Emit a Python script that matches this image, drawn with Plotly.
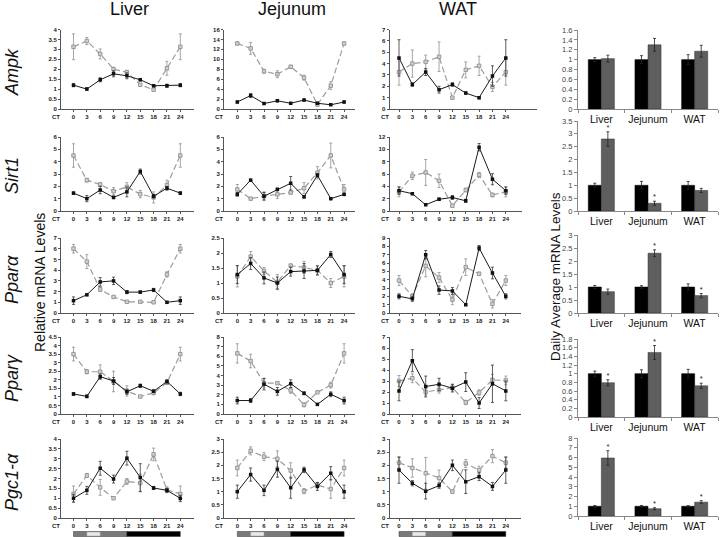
import plotly.graph_objects as go

# ---------------- data ----------------
CT = [0, 3, 6, 9, 12, 15, 18, 21, 24]
genes = ["Ampk", "Sirt1", "Pparα", "Pparγ", "Pgc1-α"]
tissues = ["Liver", "Jejunum", "WAT"]

# Ampk
ampk_liver_solid = [1.2, 1.0, 1.47, 1.77, 1.67, 1.47, 1.17, 1.17, 1.2]
ampk_liver_solid_err = [0.08, 0.07, 0.1, 0.15, 0.15, 0.05, 0.05, 0.08, 0.08]
ampk_liver_dashed = [3.13, 3.42, 2.77, 2.0, 1.85, 1.22, 0.97, 2.05, 3.13]
ampk_liver_dashed_err = [0.65, 0.18, 0.25, 0.1, 0.1, 0.06, 0.05, 0.35, 0.65]
ampk_jej_solid = [1.4, 2.7, 1.1, 1.65, 1.15, 1.8, 1.15, 0.85, 1.4]
ampk_jej_solid_err = [0.2, 0.4, 0.15, 0.2, 0.15, 0.2, 0.2, 0.15, 0.2]
ampk_jej_dashed = [13.2, 12.2, 7.6, 7.0, 8.5, 6.3, 0.9, 4.7, 13.2]
ampk_jej_dashed_err = [0.3, 1.2, 0.4, 0.7, 0.3, 0.5, 0.3, 0.8, 0.3]
ampk_wat_solid = [4.5, 2.15, 3.25, 1.7, 2.15, 1.4, 1.0, 2.9, 4.5]
ampk_wat_solid_err = [1.6, 0.15, 0.3, 0.3, 0.15, 0.1, 0.1, 0.9, 1.6]
ampk_wat_dashed = [3.25, 4.0, 4.15, 4.6, 1.0, 3.45, 3.8, 1.95, 3.25]
ampk_wat_dashed_err = [1.15, 1.2, 0.6, 1.3, 0.1, 0.7, 0.85, 0.4, 1.15]

# Sirt1
sirt1_liver_solid = [1.45, 1.0, 1.7, 1.1, 1.55, 3.2, 1.2, 1.85, 1.45]
sirt1_liver_solid_err = [0.1, 0.25, 0.3, 0.1, 0.4, 0.2, 0.15, 0.15, 0.1]
sirt1_liver_dashed = [4.5, 2.5, 2.15, 1.6, 1.95, 1.37, 1.1, 2.1, 4.5]
sirt1_liver_dashed_err = [0.95, 0.15, 0.15, 0.3, 0.35, 0.3, 0.45, 0.4, 0.95]
sirt1_jej_solid = [1.35, 2.5, 1.2, 1.75, 2.25, 1.15, 2.9, 1.0, 1.35]
sirt1_jej_solid_err = [0.15, 0.08, 0.3, 0.1, 0.55, 0.1, 0.15, 0.08, 0.1]
sirt1_jej_dashed = [1.75, 1.0, 1.2, 1.35, 1.5, 1.85, 3.1, 4.5, 1.75]
sirt1_jej_dashed_err = [0.4, 0.08, 0.35, 0.35, 0.1, 0.45, 0.5, 1.0, 0.4]
sirt1_wat_solid = [3.3, 2.8, 1.0, 1.9, 2.2, 1.65, 10.35, 5.15, 3.3]
sirt1_wat_solid_err = [0.6, 0.15, 0.1, 0.2, 0.3, 0.25, 0.6, 0.9, 0.6]
sirt1_wat_dashed = [3.1, 5.7, 6.25, 4.9, 0.85, 3.4, 5.85, 2.6, 3.1]
sirt1_wat_dashed_err = [0.8, 0.6, 2.1, 1.1, 0.1, 0.3, 0.4, 0.3, 0.8]

# Ppar-alpha
ppara_liver_solid = [1.15, 1.7, 2.9, 3.0, 1.95, 1.95, 2.15, 1.0, 1.15]
ppara_liver_solid_err = [0.35, 0.08, 0.4, 0.35, 0.15, 0.1, 0.15, 0.08, 0.35]
ppara_liver_dashed = [6.0, 4.8, 2.2, 1.5, 1.05, 1.05, 1.0, 3.6, 6.0]
ppara_liver_dashed_err = [0.4, 0.65, 0.2, 0.08, 0.08, 0.08, 0.08, 0.25, 0.4]
ppara_jej_solid = [1.28, 1.65, 1.17, 1.0, 1.38, 1.4, 1.42, 1.95, 1.28]
ppara_jej_solid_err = [0.3, 0.2, 0.2, 0.2, 0.15, 0.25, 0.15, 0.1, 0.3]
ppara_jej_dashed = [1.22, 1.88, 1.4, 1.03, 1.58, 1.52, 1.42, 1.0, 1.22]
ppara_jej_dashed_err = [0.35, 0.17, 0.12, 0.25, 0.05, 0.2, 0.15, 0.15, 0.35]
ppara_wat_solid = [2.0, 1.7, 7.0, 2.75, 2.65, 1.0, 7.8, 4.8, 2.0]
ppara_wat_solid_err = [0.3, 0.3, 0.5, 0.5, 0.4, 0.1, 0.3, 0.7, 0.3]
ppara_wat_dashed = [3.9, 2.0, 5.65, 4.25, 1.6, 5.5, 4.7, 1.1, 3.9]
ppara_wat_dashed_err = [0.6, 0.3, 1.3, 0.6, 0.6, 1.0, 0.2, 0.5, 0.6]

# Ppar-gamma
pparg_liver_solid = [1.17, 1.03, 2.18, 1.93, 1.3, 1.65, 1.33, 1.9, 1.17]
pparg_liver_solid_err = [0.08, 0.08, 0.15, 0.2, 0.15, 0.1, 0.08, 0.1, 0.1]
pparg_liver_dashed = [3.5, 2.47, 2.47, 1.9, 1.35, 1.02, 1.23, 1.83, 3.5]
pparg_liver_dashed_err = [0.4, 0.12, 0.4, 0.6, 0.3, 0.05, 0.1, 0.1, 0.4]
pparg_jej_solid = [1.4, 1.4, 3.1, 2.35, 3.15, 2.15, 1.0, 2.05, 1.4]
pparg_jej_solid_err = [0.35, 0.2, 0.6, 0.4, 0.4, 0.15, 0.1, 0.25, 0.35]
pparg_jej_dashed = [6.3, 5.5, 3.2, 3.2, 2.45, 0.95, 2.25, 3.0, 6.3]
pparg_jej_dashed_err = [1.0, 0.7, 0.5, 0.1, 0.3, 0.2, 0.1, 0.3, 1.0]
pparg_wat_solid = [2.1, 4.85, 2.5, 2.7, 2.35, 2.9, 1.0, 2.75, 2.1]
pparg_wat_solid_err = [0.9, 1.0, 0.95, 0.55, 0.35, 0.85, 0.5, 1.7, 0.9]
pparg_wat_dashed = [3.0, 3.25, 2.0, 2.2, 2.4, 1.05, 1.95, 3.1, 3.05]
pparg_wat_dashed_err = [0.5, 0.4, 0.3, 0.3, 0.3, 0.2, 0.25, 0.5, 0.4]

# Pgc1-alpha
pgc_liver_solid = [1.0, 1.4, 2.52, 1.97, 3.03, 2.05, 1.52, 1.4, 1.0]
pgc_liver_solid_err = [0.2, 0.2, 0.35, 0.2, 0.35, 0.7, 0.08, 0.1, 0.15]
pgc_liver_dashed = [1.22, 2.15, 1.55, 1.0, 1.85, 1.77, 3.22, 1.43, 1.22]
pgc_liver_dashed_err = [0.4, 0.1, 0.4, 0.05, 0.15, 0.45, 0.32, 0.15, 0.4]
pgc_jej_solid = [1.0, 1.65, 1.05, 1.85, 1.15, 1.83, 1.2, 1.7, 1.0]
pgc_jej_solid_err = [0.25, 0.25, 0.2, 0.3, 0.4, 0.1, 0.15, 0.25, 0.25]
pgc_jej_dashed = [1.9, 2.55, 2.33, 2.25, 1.8, 1.02, 1.25, 1.1, 1.9]
pgc_jej_dashed_err = [0.3, 0.15, 0.15, 0.3, 0.3, 0.1, 0.1, 0.35, 0.3]
pgc_wat_solid = [1.82, 1.32, 1.02, 1.23, 2.0, 1.38, 1.57, 1.2, 1.82]
pgc_wat_solid_err = [0.5, 0.1, 0.3, 0.1, 0.2, 0.45, 0.15, 0.15, 0.5]
pgc_wat_dashed = [2.1, 1.9, 1.7, 1.52, 1.0, 2.07, 1.82, 2.35, 2.1]
pgc_wat_dashed_err = [0.2, 0.35, 0.6, 0.3, 0.05, 0.15, 0.15, 0.25, 0.2]

# line-plot y axis maxima and tick steps [Liver, Jejunum, WAT] per gene
line_ymax = [[4, 16, 7], [6, 6, 12], [7, 2.5, 9], [4.5, 8, 7], [4, 3, 3]]
line_dtick = [[0.5, 2, 1], [1, 1, 2], [1, 0.5, 1], [0.5, 1, 1], [0.5, 0.5, 0.5]]

# daily averages (bar charts)
bar_solid = [[1.0, 1.0, 1.0]] * 5
bar_solid_err = [[0.04, 0.08, 0.1], [0.08, 0.15, 0.15], [0.06, 0.05, 0.12],
                 [0.06, 0.09, 0.1], [0.08, 0.08, 0.07]]
bar_dashed = [[1.02, 1.3, 1.17], [2.8, 0.3, 0.8], [0.82, 2.3, 0.67],
              [0.79, 1.49, 0.72], [5.95, 0.75, 1.42]]
bar_dashed_err = [[0.07, 0.13, 0.12], [0.28, 0.08, 0.08], [0.1, 0.13, 0.08],
                  [0.07, 0.16, 0.06], [0.75, 0.1, 0.15]]
bar_star = [[0, 0, 0], [1, 1, 0], [0, 1, 1], [1, 1, 1], [1, 1, 1]]
bar_ymax = [1.6, 3.5, 3, 1.8, 8]
bar_dtick = [0.2, 0.5, 0.5, 0.2, 1]

# light / dark phases and feeding window (CT hours)
phase_start = [0, 12]
phase_end = [12, 24]
feed_window = [3, 6]

line_data = [
    [(ampk_liver_solid, ampk_liver_solid_err, ampk_liver_dashed, ampk_liver_dashed_err),
     (ampk_jej_solid, ampk_jej_solid_err, ampk_jej_dashed, ampk_jej_dashed_err),
     (ampk_wat_solid, ampk_wat_solid_err, ampk_wat_dashed, ampk_wat_dashed_err)],
    [(sirt1_liver_solid, sirt1_liver_solid_err, sirt1_liver_dashed, sirt1_liver_dashed_err),
     (sirt1_jej_solid, sirt1_jej_solid_err, sirt1_jej_dashed, sirt1_jej_dashed_err),
     (sirt1_wat_solid, sirt1_wat_solid_err, sirt1_wat_dashed, sirt1_wat_dashed_err)],
    [(ppara_liver_solid, ppara_liver_solid_err, ppara_liver_dashed, ppara_liver_dashed_err),
     (ppara_jej_solid, ppara_jej_solid_err, ppara_jej_dashed, ppara_jej_dashed_err),
     (ppara_wat_solid, ppara_wat_solid_err, ppara_wat_dashed, ppara_wat_dashed_err)],
    [(pparg_liver_solid, pparg_liver_solid_err, pparg_liver_dashed, pparg_liver_dashed_err),
     (pparg_jej_solid, pparg_jej_solid_err, pparg_jej_dashed, pparg_jej_dashed_err),
     (pparg_wat_solid, pparg_wat_solid_err, pparg_wat_dashed, pparg_wat_dashed_err)],
    [(pgc_liver_solid, pgc_liver_solid_err, pgc_liver_dashed, pgc_liver_dashed_err),
     (pgc_jej_solid, pgc_jej_solid_err, pgc_jej_dashed, pgc_jej_dashed_err),
     (pgc_wat_solid, pgc_wat_solid_err, pgc_wat_dashed, pgc_wat_dashed_err)],
]

# ---------------- layout geometry (pixels) ----------------
W, H = 720, 537
FONT = "Liberation Sans, Arial, sans-serif"
PPU = 4.45  # px per CT hour
col_left = [61, 224, 389.5]
col_zero = [73.5, 237.3, 399]
col_right = [[194, 355, 537], [194, 355, 522], [194, 355, 521], [194, 355, 521], [194, 355, 521]]
line_rows = [(29.5, 109), (137, 211), (238, 313), (337, 414), (439, 518)]
bar_rows = [(30, 109), (121, 211), (235, 313), (339, 417), (438, 516)]
bar_left, bar_right = 578, 718
BARGAP = 0.44

SOLID_C = "#1a1a1a"
DASH_C = "#9c9c9c"
BAR_DARK = "#000000"
BAR_GREY = "#5e5e5e"


def px_x(p):
    return p / W


def px_y(p):
    return 1 - p / H


fig = go.Figure()
layout = {}
annotations = []
shapes = []


def axname(k):
    return ("x", "y") if k == 0 else (f"x{k + 1}", f"y{k + 1}")


for r in range(5):
    top, bot = line_rows[r]
    for c in range(3):
        k = r * 4 + c
        xn, yn = axname(k)
        solid, solid_e, dashed, dashed_e = line_data[r][c]
        fig.add_trace(go.Scatter(
            x=CT, y=dashed, xaxis=xn, yaxis=yn, mode="lines+markers",
            line=dict(color=DASH_C, width=1.2, dash="6px,3px"),
            marker=dict(symbol="square", size=3.5, color="#cfcfcf",
                        line=dict(color="#8a8a8a", width=0.8)),
            error_y=dict(type="data", array=dashed_e, color="#8f8f8f",
                         thickness=0.8, width=1.5),
            showlegend=False, hoverinfo="skip"))
        fig.add_trace(go.Scatter(
            x=CT, y=solid, xaxis=xn, yaxis=yn, mode="lines+markers",
            line=dict(color=SOLID_C, width=1),
            marker=dict(symbol="square", size=3.5, color="#111111"),
            error_y=dict(type="data", array=solid_e, color="#333333",
                         thickness=0.8, width=1.5),
            showlegend=False, hoverinfo="skip"))
        left, right, zero = col_left[c], col_right[r][c], col_zero[c]
        xr = [(left - zero) / PPU, (right - zero) / PPU]
        kx = "xaxis" if k == 0 else f"xaxis{k + 1}"
        ky = "yaxis" if k == 0 else f"yaxis{k + 1}"
        layout[kx] = dict(
            domain=[px_x(left), px_x(right)], range=xr, anchor=yn,
            automargin=False,
            tickvals=CT, ticks="outside", ticklen=2, tickwidth=0.8,
            tickcolor="#555", showline=True, linecolor="#555", linewidth=1,
            showgrid=False, zeroline=False,
            tickfont=dict(family=FONT, size=6, color="#222", weight="bold"))
        ym = line_ymax[r][c]
        layout[ky] = dict(
            domain=[px_y(bot), px_y(top)], range=[0, ym], anchor=xn,
            automargin=False,
            dtick=line_dtick[r][c], tick0=0, ticks="outside", ticklen=2,
            tickwidth=0.8, tickcolor="#555", showline=True, linecolor="#555",
            linewidth=1, showgrid=False, zeroline=False,
            tickfont=dict(family=FONT, size=6, color="#222", weight="bold"))
        annotations.append(dict(
            text="<b>CT</b>", x=px_x(left + 1), y=px_y(bot + 8), xref="paper",
            yref="paper", xanchor="right", yanchor="middle", showarrow=False,
            font=dict(family=FONT, size=6, color="#222")))

    # bar chart
    k = r * 4 + 3
    xn, yn = axname(k)
    btop, bbot = bar_rows[r]
    fig.add_trace(go.Bar(
        x=[0, 1, 2], y=bar_solid[r], xaxis=xn, yaxis=yn,
        marker=dict(color=BAR_DARK, line=dict(color="#000", width=0.5)),
        error_y=dict(type="data", array=bar_solid_err[r], color="#222",
                     thickness=0.8, width=1.5),
        showlegend=False, hoverinfo="skip"))
    fig.add_trace(go.Bar(
        x=[0, 1, 2], y=bar_dashed[r], xaxis=xn, yaxis=yn,
        marker=dict(color=BAR_GREY, line=dict(color="#333", width=0.5)),
        error_y=dict(type="data", array=bar_dashed_err[r], color="#222",
                     thickness=0.8, width=1.5),
        showlegend=False, hoverinfo="skip"))
    off = (1 - BARGAP) / 4
    sx = [i + off for i in range(3) if bar_star[r][i]]
    sy = [bar_dashed[r][i] + bar_dashed_err[r][i] for i in range(3) if bar_star[r][i]]
    if sx:
        fig.add_trace(go.Scatter(
            x=sx, y=sy, xaxis=xn, yaxis=yn, mode="text", text=["*"] * len(sx),
            textposition="top center", cliponaxis=False,
            textfont=dict(family=FONT, size=7.5, color="#222"),
            showlegend=False, hoverinfo="skip"))
    kx = f"xaxis{k + 1}"
    ky = f"yaxis{k + 1}"
    layout[kx] = dict(
        domain=[px_x(bar_left), px_x(bar_right)], range=[-0.5, 2.5], anchor=yn,
        automargin=False,
        tickvals=[0, 1, 2], ticktext=tissues, ticks="", showline=True,
        linecolor="#888", linewidth=1, showgrid=False, zeroline=False,
        minor=dict(tickvals=[-0.5, 0.5, 1.5, 2.5], ticks="outside", ticklen=3,
                   tickcolor="#888"),
        tickfont=dict(family=FONT, size=10.5, color="#111"))
    layout[ky] = dict(
        domain=[px_y(bbot), px_y(btop)], range=[0, bar_ymax[r]], anchor=xn,
        automargin=False,
        dtick=bar_dtick[r], tick0=0, ticks="outside", ticklen=3,
        tickcolor="#888", showline=True, linecolor="#888", linewidth=1,
        showgrid=False, zeroline=False,
        tickfont=dict(family=FONT, size=7.5, color="#444"))

# light/dark bars under the bottom row
for c in range(3):
    k = 4 * 4 + c
    xn, _ = axname(k)
    for i, (s, e) in enumerate(zip(phase_start, phase_end)):
        shapes.append(dict(type="rect", xref=xn, yref="paper", x0=s, x1=e,
                           y0=px_y(536.5), y1=px_y(531.5),
                           fillcolor="#7a7a7a" if i == 0 else "#000000",
                           line=dict(width=0.5, color="#333")))
    shapes.append(dict(type="rect", xref=xn, yref="paper", x0=feed_window[0],
                       x1=feed_window[1], y0=px_y(536), y1=px_y(532),
                       fillcolor="#e9e9e9", line=dict(width=0.5, color="#999")))

# column titles
for c in range(3):
    cx = (col_left[c] + col_right[1][c]) / 2 + 2
    annotations.append(dict(text=tissues[c], x=px_x(cx), y=px_y(9), xref="paper",
                            yref="paper", showarrow=False, xanchor="center",
                            yanchor="middle",
                            font=dict(family=FONT, size=18, color="#111")))

# gene row labels
row_label_y = [72, 176, 280, 378, 482]
for r in range(5):
    annotations.append(dict(text=genes[r], x=px_x(12), y=px_y(row_label_y[r]),
                            xref="paper", yref="paper", showarrow=False,
                            textangle=-90, xanchor="center", yanchor="middle",
                            font=dict(family=FONT, size=18, color="#111",
                                      style="italic")))

annotations.append(dict(text="Relative mRNA Levels", x=px_x(40), y=px_y(283),
                        xref="paper", yref="paper", showarrow=False, textangle=-90,
                        xanchor="center", yanchor="middle",
                        font=dict(family=FONT, size=14, color="#111")))
annotations.append(dict(text="Daily Average mRNA Levels", x=px_x(555), y=px_y(277),
                        xref="paper", yref="paper", showarrow=False, textangle=-90,
                        xanchor="center", yanchor="middle",
                        font=dict(family=FONT, size=13.5, color="#111")))

fig.update_layout(
    width=W, height=H, margin=dict(l=0, r=0, t=0, b=0, autoexpand=False),
    paper_bgcolor="white", plot_bgcolor="white",
    barmode="group", bargap=BARGAP, bargroupgap=0,
    annotations=annotations, shapes=shapes, showlegend=False,
    **layout)

fig.write_html("out.html",
               config={"displayModeBar": False},
               post_script="document.body.style.margin='0px';"
                           "document.body.style.padding='0px';"
                           "document.body.style.overflow='hidden';")
